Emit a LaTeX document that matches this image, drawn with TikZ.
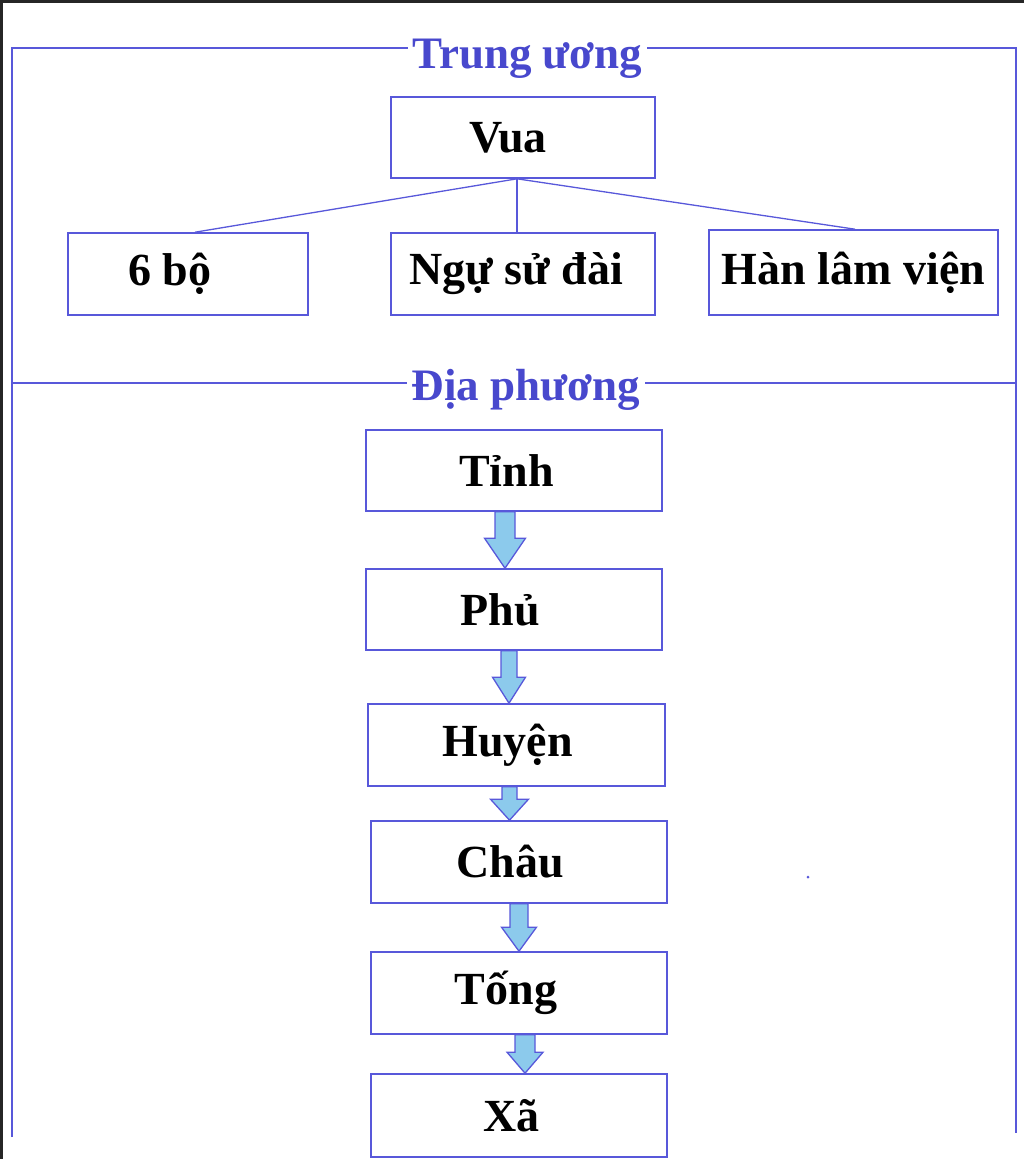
\documentclass[tikz,border=0pt]{standalone}
\usepackage{fontspec}
\setmainfont{Liberation Serif}
\usetikzlibrary{calc}
\definecolor{lineblue}{RGB}{88,88,218}
\definecolor{titleblue}{RGB}{72,72,205}
\definecolor{arrowfill}{RGB}{140,202,236}
\newcommand{\blockarr}[6]{% from, to, xoffset, head length, shaft half width, head half width
  \draw[arrowst]
    ($(#2.north |- #1.south)+(#3-#5,0)$) -- ($(#2.north |- #1.south)+(#3+#5,0)$)
    -- ($(#2.north)+(#3+#5,-#4)$) -- ($(#2.north)+(#3+#6,-#4)$)
    -- ($(#2.north)+(#3,0)$)
    -- ($(#2.north)+(#3-#6,-#4)$) -- ($(#2.north)+(#3-#5,-#4)$) -- cycle;}
\begin{document}
\begin{tikzpicture}[x=1pt,y=-1pt,
  box/.style={draw=lineblue,line width=1.6pt,fill=white,inner sep=0pt},
  boxtext/.style={font=\fontsize{46}{50}\selectfont\bfseries,text=black,inner sep=0pt},
  sectitle/.style={font=\fontsize{45}{50}\selectfont\bfseries,text=titleblue,fill=white,inner xsep=5pt,inner ysep=2pt,anchor=base},
  frame/.style={draw=lineblue,line width=1.5pt},
  link/.style={draw=lineblue,line width=1.3pt},
  arrowst/.style={draw=lineblue,fill=arrowfill,line width=1.3pt,line join=miter}]
\useasboundingbox (0,0) rectangle (1024,1159);
% screenshot edge
\fill[black!85] (0,0) rectangle (1024,2.5);
\fill[black!85] (0,0) rectangle (3,1159);
% outer frame and separator
\draw[frame] (12,1137) -- (12,48) -- (1016,48) -- (1016,1133);
\draw[frame] (12,383) -- (1016,383);
\node[sectitle] (tw) at (527.5,68) {Trung ương};
\node[sectitle] (dp) at (526,400) {Địa phương};
% central level
\node[box,minimum width=264pt,minimum height=81pt,label={[boxtext,xshift=-15pt]center:Vua}] (vua) at (523,137.5) {};
\node[box,minimum width=240pt,minimum height=82pt,label={[boxtext,xshift=-18pt]center:6 bộ}] (bo) at (188,274) {};
\node[box,minimum width=264pt,minimum height=82pt,label={[boxtext,xshift=-7pt]center:Ngự sử đài}] (ngusu) at (523,274) {};
\node[box,minimum width=289pt,minimum height=85pt,label={[boxtext]center:Hàn lâm viện}] (hanlam) at (853.5,272.5) {};
\coordinate (j) at ($(vua.south)+(-6,0)$);
\draw[link] (j) -- ($(bo.north)+(7,0)$);
\draw[link] (j) -- ($(ngusu.north)+(-6,0)$);
\draw[link] (j) -- ($(hanlam.north)+(1.5,0)$);
% local level
\node[box,minimum width=296pt,minimum height=81pt,label={[boxtext,xshift=-7.5pt]center:Tỉnh}] (tinh) at (514,470.5) {};
\node[box,minimum width=296pt,minimum height=81pt,label={[boxtext,xshift=-14pt]center:Phủ}] (phu) at (514,609.5) {};
\node[box,minimum width=297pt,minimum height=82pt,label={[boxtext,xshift=-9pt]center:Huyện}] (huyen) at (516.5,745) {};
\node[box,minimum width=296pt,minimum height=82pt,label={[boxtext,xshift=-9pt]center:Châu}] (chau) at (519,862) {};
\node[box,minimum width=296pt,minimum height=82pt,label={[boxtext,xshift=-13pt]center:Tống}] (tong) at (519,993) {};
\node[box,minimum width=296pt,minimum height=83pt,label={[boxtext,xshift=-7.5pt]center:Xã}] (xa) at (519,1115.5) {};
\blockarr{tinh}{phu}{-9}{30}{10}{20.5}
\blockarr{phu}{huyen}{-7.5}{26}{8}{16.5}
\blockarr{huyen}{chau}{-9.5}{21}{7.5}{19}
\blockarr{chau}{tong}{0}{24}{9}{17.5}
\blockarr{tong}{xa}{6}{21}{10}{18}
% stray mark
\fill[lineblue] (808,877) circle (1.5);
\end{tikzpicture}
\end{document}
